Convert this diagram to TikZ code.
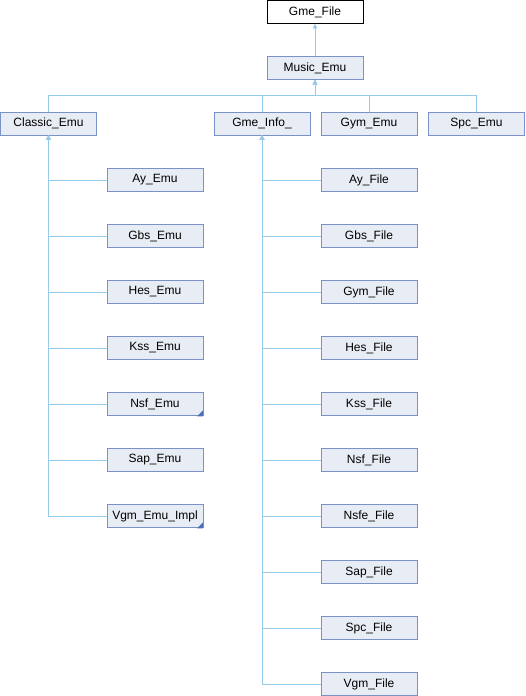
\documentclass[tikz,border=0pt]{standalone}
\usepackage{fontspec}
\setmainfont{Liberation Sans}
\usetikzlibrary{arrows.meta}
\definecolor{boxfill}{RGB}{232,236,245}
\definecolor{boxline}{RGB}{122,146,200}
\definecolor{edgecol}{RGB}{150,202,234}
\definecolor{cornercol}{RGB}{80,110,190}
\begin{document}
\begin{tikzpicture}[x=1pt,y=-1pt,
  cls/.style={draw=boxline,fill=boxfill,line width=0.8pt,minimum width=96pt,minimum height=23pt,inner sep=0pt,font=\fontsize{12}{14}\selectfont},
  top/.style={cls,draw=black,fill=white},
  arr/.style={draw=edgecol,line width=0.8pt,-{Triangle[width=4.5pt,length=4.5pt]}},
  more/.style={fill=cornercol}]
\useasboundingbox (0,0) rectangle (525,696);
\node[top] (gmefile) at (315,12) {Gme\_File};
\node[cls] (music) at (315,68) {Music\_Emu};
\node[cls] (classic) at (48.5,123.5) {Classic\_Emu};
\node[cls] (info) at (262,123.5) {Gme\_Info\_};
\node[cls] (gym) at (369,123.5) {Gym\_Emu};
\node[cls] (spc) at (476.5,123.5) {Spc\_Emu};
\foreach \n/\t [count=\i from 0] in {ayemu/Ay\_Emu,gbsemu/Gbs\_Emu,hesemu/Hes\_Emu,kssemu/Kss\_Emu,nsfemu/Nsf\_Emu,sapemu/Sap\_Emu,vgmemu/Vgm\_Emu\_Impl}
  \node[cls] (\n) at (155,180+56*\i) {\t};
\foreach \n/\t [count=\i from 0] in {ayfile/Ay\_File,gbsfile/Gbs\_File,gymfile/Gym\_File,hesfile/Hes\_File,kssfile/Kss\_File,nsffile/Nsf\_File,nsfefile/Nsfe\_File,sapfile/Sap\_File,spcfile/Spc\_File,vgmfile/Vgm\_File}
  \node[cls] (\n) at (369,180+56*\i) {\t};
\draw[arr] (music.north) -- (gmefile.south);
\foreach \c in {classic,info,gym,spc}
  \draw[arr] (\c.north) -- ++(0,-16) -| (music.south);
\foreach \n in {ayemu,gbsemu,hesemu,kssemu,nsfemu,sapemu,vgmemu}
  \draw[arr] (\n.west) -| (classic.south);
\foreach \n in {ayfile,gbsfile,gymfile,hesfile,kssfile,nsffile,nsfefile,sapfile,spcfile,vgmfile}
  \draw[arr] (\n.west) -| (info.south);
\foreach \n in {nsfemu,vgmemu}
  \fill[more] ([xshift=-0.4pt,yshift=-0.4pt]\n.south east) -- ++(-6,0) -- ++(6,-6) -- cycle;
\end{tikzpicture}
\end{document}
